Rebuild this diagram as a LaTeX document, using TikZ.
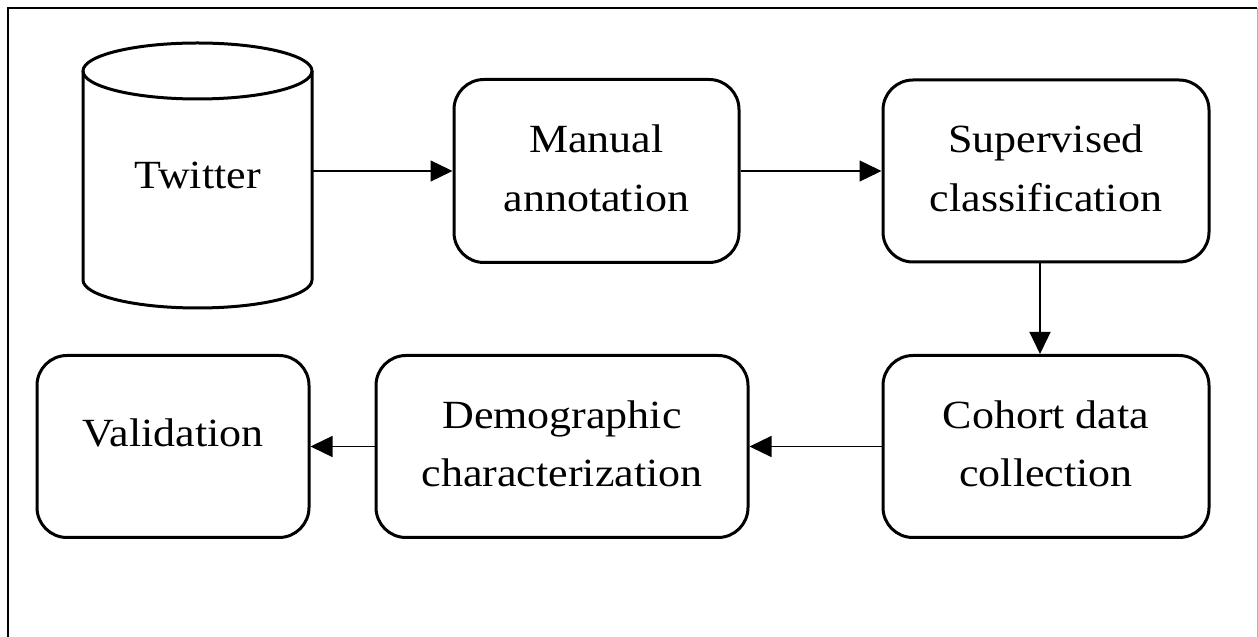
\documentclass[tikz,border=0pt]{standalone}
\usepackage{fontspec}
\setmainfont{Liberation Serif}[FakeStretch=1.1]
\usetikzlibrary{arrows.meta}
\begin{document}
\begin{tikzpicture}[x=1pt,y=1pt,
  box/.style={draw, line width=3pt, rounded corners=30pt, align=center,
    font=\fontsize{40}{58.5}\selectfont, inner sep=0pt, text depth=6pt},
  conn/.style={line width=1.3pt, -{Triangle[length=22pt,width=21pt]}},
  frame/.style={line width=2pt},
  cyl/.style={line width=3pt}]
\useasboundingbox (0,0) rectangle (1258,637);
% outer frame
\draw[frame] (8,0) -- (8,629) -- (1257,629);
\draw[gray!60, line width=1pt] (1257,629) -- (1257,0);
% cylinder
\draw[cyl] (83,566) -- (83,357) arc[start angle=180, end angle=360, x radius=114.5, y radius=28] -- (312,566);
\draw[cyl] (197.5,566) ellipse[x radius=114.5, y radius=28];
\node[minimum width=229pt, minimum height=209pt, inner sep=0pt,
  font=\fontsize{40}{58.5}\selectfont] (tw) at (197.5,461.5) {Twitter};
% boxes
\node[box, minimum width=285pt, minimum height=183pt] (man) at (596.5,466) {Manual\\annotation};
\node[box, minimum width=326pt, minimum height=182pt] (sup) at (1046,466) {Supervised\\classification};
\node[box, minimum width=326pt, minimum height=182pt] (coh) at (1046,190.5) {Cohort data\\collection};
\node[box, minimum width=372pt, minimum height=182pt] (dem) at (562,190.5) {Demographic\\characterization};
\node[box, minimum width=272pt, minimum height=182pt, text depth=28pt] (val) at (173,190.5) {Validation};
% connectors
\draw[conn] (tw.east |- man.west) -- (man.west);
\draw[conn] (man.east) -- (sup.west);
\draw[conn] ([xshift=-6pt]sup.south) -- ([xshift=-6pt]coh.north);
\draw[conn] (coh.west) -- (dem.east);
\draw[conn] (dem.west) -- (val.east);
\end{tikzpicture}
\end{document}
